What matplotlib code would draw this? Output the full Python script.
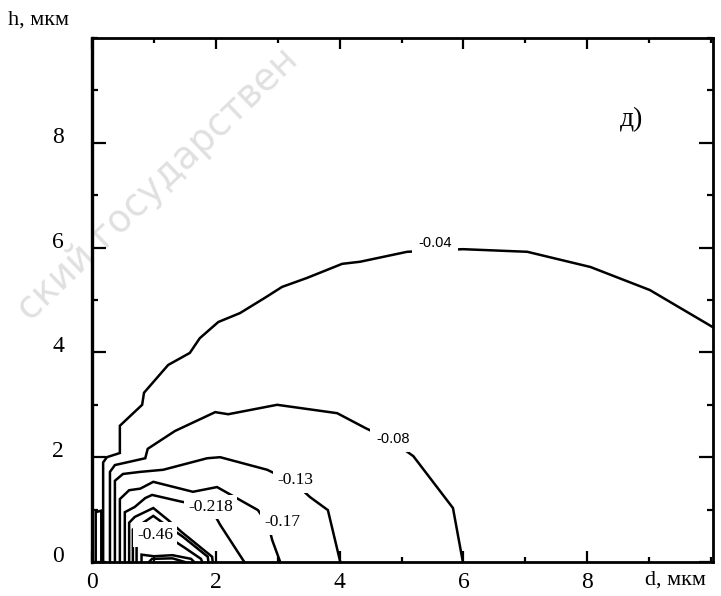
import matplotlib
matplotlib.use("Agg")
import matplotlib.pyplot as plt
from matplotlib.ticker import MultipleLocator, FixedLocator
import matplotlib.transforms as mtransforms

# ---- contour lines (d, h in мкм) ----
d_004 = [0.18, 0.18, 0.24, 0.45, 0.45, 0.81, 0.84, 1.23, 1.58, 1.74, 2.04, 2.39, 2.79,
         3.07, 3.47, 4.04, 4.33, 5.09, 5.99, 7.03, 8.05, 9.01, 10.03]
h_004 = [0.00, 1.90, 2.00, 2.08, 2.60, 3.00, 3.23, 3.76, 3.99, 4.27, 4.58, 4.75, 5.04,
         5.25, 5.42, 5.69, 5.73, 5.92, 5.97, 5.92, 5.63, 5.19, 4.48]

d_008 = [0.29, 0.29, 0.37, 0.86, 0.90, 1.34, 1.99, 2.20, 2.99, 3.96, 4.41, 4.86, 5.19, 5.83, 5.99]
h_008 = [0.00, 1.72, 1.85, 1.98, 2.16, 2.50, 2.86, 2.82, 3.00, 2.84, 2.56, 2.30, 2.02, 1.03, 0.00]

d_013 = [0.37, 0.37, 0.50, 0.78, 1.15, 1.86, 2.07, 2.83, 3.28, 3.52, 3.81, 4.01]
h_013 = [0.00, 1.55, 1.68, 1.72, 1.76, 1.98, 2.00, 1.76, 1.50, 1.24, 0.99, 0.00]

d_017 = [0.45, 0.45, 0.60, 0.78, 0.99, 1.63, 2.02, 2.68, 2.85, 2.91, 3.04]
h_017 = [0.00, 1.20, 1.37, 1.40, 1.53, 1.34, 1.43, 0.99, 0.70, 0.42, 0.00]

d_0218 = [0.53, 0.53, 0.69, 0.86, 0.97, 1.45, 1.91, 2.07, 2.46]
h_0218 = [0.00, 0.95, 1.05, 1.22, 1.28, 1.15, 1.05, 0.71, 0.00]

d_03 = [0.60, 0.60, 0.69, 0.99, 1.23, 1.45, 1.94, 1.95]
h_03 = [0.00, 0.75, 0.86, 1.03, 0.80, 0.57, 0.10, 0.00]

d_038 = [0.66, 0.66, 0.89, 0.99, 1.13, 1.47, 1.87, 1.88]
h_038 = [0.00, 0.62, 0.80, 0.88, 0.76, 0.48, 0.10, 0.00]

d_046 = [0.72, 0.72, 0.80, 1.02, 1.28, 1.50, 1.76, 1.78]
h_046 = [0.00, 0.45, 0.52, 0.56, 0.44, 0.27, 0.06, 0.00]

d_06 = [0.80, 0.80, 1.00, 1.30, 1.60, 1.65]
h_06 = [0.00, 0.14, 0.11, 0.13, 0.06, 0.00]

d_08 = [0.92, 0.97, 1.30, 1.50]
h_08 = [0.00, 0.06, 0.07, 0.00]

d_edge = [0.06, 0.06, 0.15, 0.15]
h_edge = [0.00, 0.95, 0.98, 0.00]

lines_d = [d_004, d_008, d_013, d_017, d_0218, d_03, d_038, d_046, d_06, d_08, d_edge]
lines_h = [h_004, h_008, h_013, h_017, h_0218, h_03, h_038, h_046, h_06, h_08, h_edge]

# contour labels
label_text = ["-0.04", "-0.08", "-0.13", "-0.17", "-0.218", "-0.46"]
label_d = [5.54, 4.86, 3.28, 3.07, 1.91, 1.02]
label_h = [6.09, 2.35, 1.56, 0.76, 1.05, 0.52]
label_serif = [False, False, True, True, True, True]

x_ticks = [0, 2, 4, 6, 8]
y_ticks = [0, 2, 4, 6, 8]

# ---- figure ----
fig = plt.figure(figsize=(7.21, 5.96), dpi=100)
ax = fig.add_axes([92 / 721, (596 - 562) / 596, (713 - 92) / 721, (562 - 38) / 596])
ax.patch.set_alpha(0)

# faint watermark
fig.text(30 / 721, 1 - 322 / 596, "ский государствен", fontsize=27, color="#e0e0e0",
         rotation=44, rotation_mode="anchor", ha="left", va="baseline",
         family="DejaVu Sans", zorder=-5)

for dd, hh in zip(lines_d, lines_h):
    ax.plot(dd, hh, color="black", lw=1.8, solid_joinstyle="miter", clip_on=False, zorder=2)

for t, x, y, serif in zip(label_text, label_d, label_h, label_serif):
    if serif:
        ax.text(x, y, t, ha="center", va="center", fontsize=12.5, family="Liberation Serif",
                zorder=4, bbox=dict(boxstyle="square,pad=0.25", fc="white", ec="none"))
    else:
        ax.text(x, y, t, ha="center", va="center", fontsize=10.5, family="Liberation Sans",
                zorder=4, bbox=dict(boxstyle="square,pad=0.45", fc="white", ec="none"))

ax.set_xlim(0, 10.03)
ax.set_ylim(0, 10)

ax.xaxis.set_major_locator(FixedLocator(x_ticks))
ax.yaxis.set_major_locator(FixedLocator(y_ticks))
ax.xaxis.set_minor_locator(MultipleLocator(1))
ax.yaxis.set_minor_locator(MultipleLocator(1))

ax.tick_params(axis="both", which="both", direction="in", top=True, right=True,
               width=1.6, colors="black")
ax.tick_params(axis="x", which="major", length=8, pad=7)
ax.tick_params(axis="x", which="minor", length=3.5)
ax.tick_params(axis="y", which="major", length=10, pad=20)
ax.tick_params(axis="y", which="minor", length=4.5)

for lab in ax.get_xticklabels() + ax.get_yticklabels():
    lab.set_family("Liberation Serif")
    lab.set_fontsize(17)

# y tick labels sit a little above their ticks in the original
offset = mtransforms.ScaledTranslation(0, 8 / 100, fig.dpi_scale_trans)
for lab in ax.get_yticklabels():
    lab.set_transform(lab.get_transform() + offset)

for sp in ax.spines.values():
    sp.set_linewidth(2.0)
ax.spines["left"].set_linewidth(2.4)

fig.text(8 / 721, 1 - 20 / 596, "h, мкм", fontsize=16, family="Liberation Serif",
         ha="left", va="center")
fig.text(645 / 721, 1 - 580 / 596, "d, мкм", fontsize=16, family="Liberation Serif",
         ha="left", va="center")
ax.text(8.53, 8.44, "д)", fontsize=20, family="Liberation Serif", ha="left", va="center")

fig.savefig("out.png", dpi=100)
